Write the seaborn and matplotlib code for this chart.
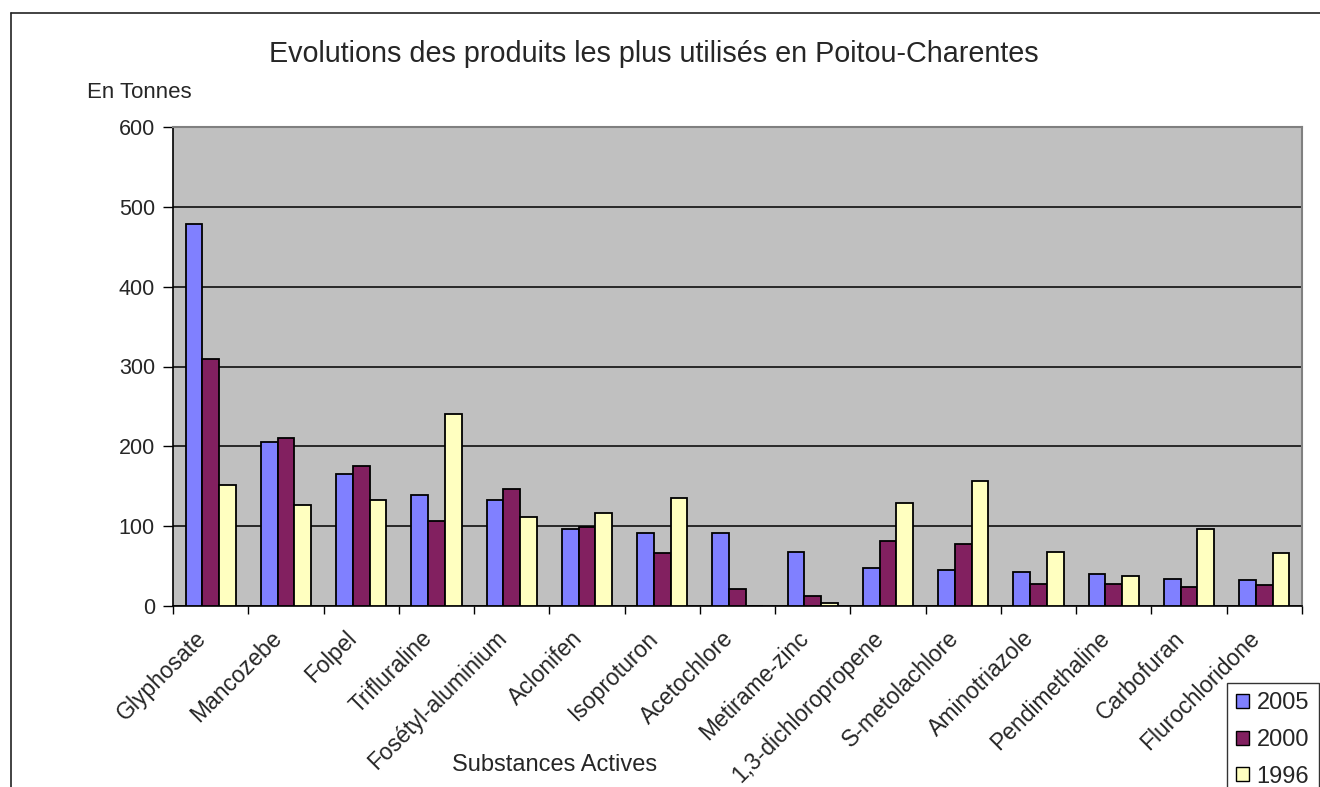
import numpy as np
import pandas as pd
import seaborn as sns
import matplotlib.pyplot as plt
from matplotlib.lines import Line2D
from matplotlib.patches import Patch
from matplotlib.transforms import ScaledTranslation

substances = ['Glyphosate', 'Mancozebe', 'Folpel', 'Trifluraline', 'Fosétyl-aluminium',
              'Aclonifen', 'Isoproturon', 'Acetochlore', 'Metirame-zinc',
              '1,3-dichloropropene', 'S-metolachlore', 'Aminotriazole',
              'Pendimethaline', 'Carbofuran', 'Flurochloridone']
annees = ['2005', '2000', '1996']
t2005 = [478, 205, 165, 139, 133, 97, 91, 91, 68, 47, 45, 43, 40, 34, 32]
t2000 = [310, 211, 175, 107, 147, 99, 66, 21, 13, 82, 78, 28, 28, 24, 26]
t1996 = [152, 127, 133, 240, 112, 116, 135, 0, 4, 129, 156, 68, 38, 97, 66]
couleurs = ['#8080FF', '#822060', '#FFFFC0']

df = pd.DataFrame({
    'substance': substances * 3,
    'annee': [a for a in annees for _ in substances],
    'tonnes': t2005 + t2000 + t1996,
})

sns.set_theme(style='white')
plt.rcParams['font.family'] = ['Liberation Sans', 'DejaVu Sans']

W, H = 1320, 787
fig = plt.figure(figsize=(W / 100, H / 100), dpi=100)
ax = fig.add_axes([173 / W, 1 - 606 / H, 1129 / W, 479 / H])
ax.set_facecolor('#C0C0C0')

sns.barplot(data=df, x='substance', y='tonnes', hue='annee', hue_order=annees,
            palette=couleurs, saturation=1, width=0.667, gap=0,
            edgecolor='black', linewidth=1.3, ax=ax, zorder=3, legend=False)

ax.set_xlim(-0.5, len(substances) - 0.5)
ax.set_ylim(0, 600)
ax.set_yticks(np.arange(0, 601, 100))
ax.yaxis.grid(True, color='black', linewidth=1.1, zorder=0)
ax.set_axisbelow(True)

ax.set_xticks(range(len(substances)))
ax.set_xticklabels(substances, rotation=45, ha='right', rotation_mode='anchor',
                   fontsize=16.5)
ax.set_xticks(np.arange(-0.5, len(substances), 1), minor=True)
ax.tick_params(axis='x', which='major', length=0, pad=15)
ax.tick_params(axis='x', which='minor', length=6, width=1, color='black',
               direction='out', bottom=True)
ax.tick_params(axis='y', length=7, width=1, color='black', direction='out',
               left=True, labelsize=15.5, pad=6)
# labels sit a bit left of the group centre, like the Excel original
for lbl in ax.get_xticklabels():
    lbl.set_transform(lbl.get_transform() + ScaledTranslation(-0.16, 0, fig.dpi_scale_trans))
ax.set_xlabel('')
ax.set_ylabel('')

for s in ['top', 'right']:
    ax.spines[s].set_color('#808080')
    ax.spines[s].set_linewidth(1.5)
for s in ['left', 'bottom']:
    ax.spines[s].set_color('black')
    ax.spines[s].set_linewidth(1.2)

fig.text(654 / W, 1 - 54 / H, 'Evolutions des produits les plus utilisés en Poitou-Charentes',
         ha='center', va='center', fontsize=20.7)
fig.text(87 / W, 1 - 93 / H, 'En Tonnes', ha='left', va='center', fontsize=16)
fig.text(555 / W, 1 - 765 / H, 'Substances Actives', ha='center', va='center', fontsize=17)

handles = [Patch(facecolor=c, edgecolor='black', linewidth=1) for c in couleurs]
leg = fig.legend(handles, annees, loc='upper left',
                 bbox_to_anchor=(1227 / W, 1 - 683 / H), fontsize=17,
                 frameon=True, fancybox=False, edgecolor='black',
                 handlelength=0.55, handleheight=0.55, handletextpad=0.3,
                 labelspacing=0.62, borderpad=0.4, borderaxespad=0)
leg.get_frame().set_linewidth(1)

fig.add_artist(Line2D([11 / W, 11 / W], [0, 1 - 13 / H], color='#222222', lw=1.2))
fig.add_artist(Line2D([11 / W, 1], [1 - 13 / H, 1 - 13 / H], color='#222222', lw=1.2))

fig.savefig('out.png', dpi=100, facecolor='white')
